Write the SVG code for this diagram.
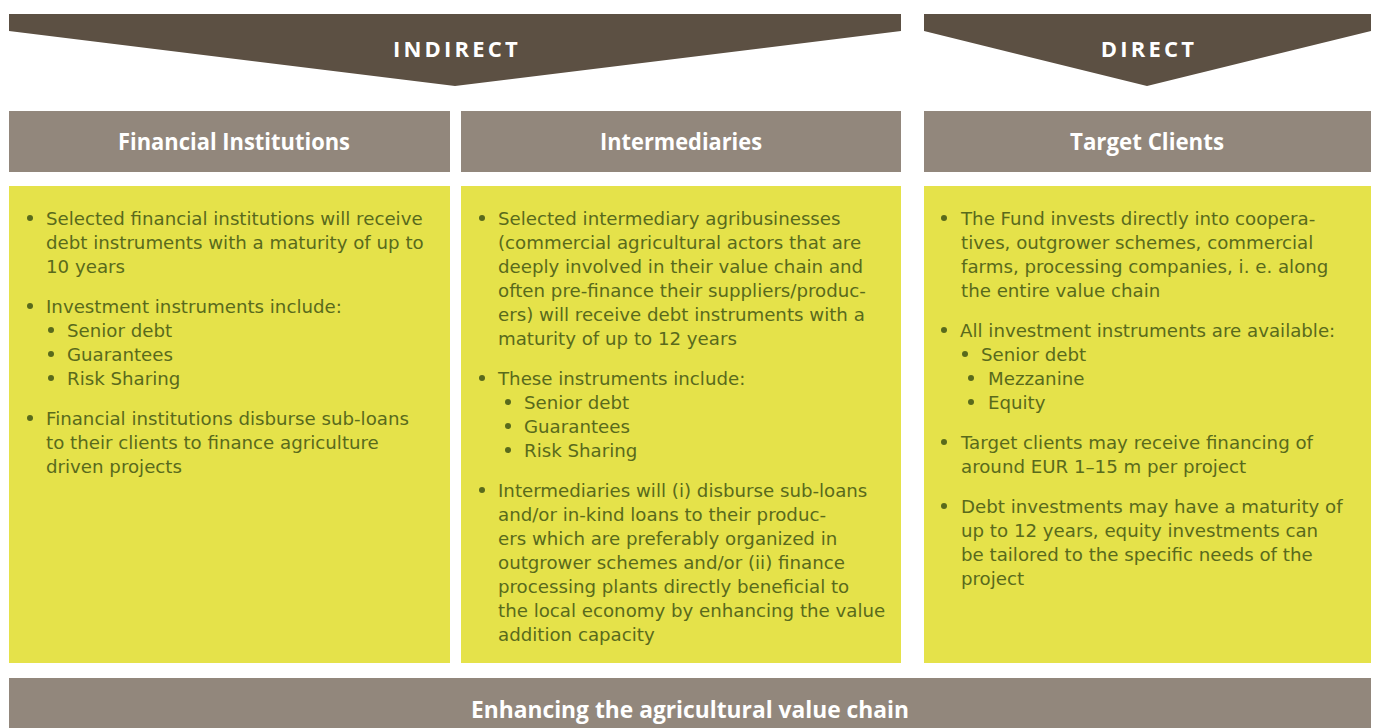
<svg xmlns="http://www.w3.org/2000/svg" width="1376" height="728" viewBox="0 0 1376 728">
<style>
.banner{fill:#5c5043}
.hdr{fill:#92877c}
.body{fill:#e5e24a}
.bt{font-family:"Open Sans","Liberation Sans",sans-serif;font-weight:bold;font-size:22px;fill:#ffffff;letter-spacing:3.2px;text-anchor:middle}
.ht{font-family:"Open Sans","Liberation Sans",sans-serif;font-weight:bold;font-size:23px;fill:#ffffff;text-anchor:middle}
.tx{font-family:"DejaVu Sans","Liberation Sans",sans-serif;font-size:18.2px;fill:#596a1c}
.dot{fill:#596a1c}
</style>
<defs><circle id="b" r="3" class="dot"/></defs>
<rect width="1376" height="728" fill="#ffffff"/>
<g id="indirect">
<polygon class="banner" points="9,14 901,14 901,31 455,86 9,31"/>
<text class="bt" x="457" y="57">INDIRECT</text>
</g>
<g id="direct">
<polygon class="banner" points="924,14 1371,14 1371,31 1147,86 924,31"/>
<text class="bt" x="1149" y="57">DIRECT</text>
</g>
<g id="financial-institutions">
<rect class="hdr" x="9" y="111" width="441" height="61"/>
<text class="ht" x="234" y="150" textLength="232" lengthAdjust="spacingAndGlyphs">Financial Institutions</text>
<rect class="body" x="9" y="186" width="441" height="477"/>
<use href="#b" x="30" y="218"/><use href="#b" x="30" y="306"/><use href="#b" x="51" y="330"/><use href="#b" x="51" y="354"/><use href="#b" x="51" y="378"/><use href="#b" x="30" y="418"/>
<g class="tx">
<text x="46" y="225">Selected financial institutions will receive</text>
<text x="46" y="249">debt instruments with a maturity of up to</text>
<text x="46" y="273">10 years</text>
<text x="46" y="313">Investment instruments include:</text>
<text x="67" y="337">Senior debt</text>
<text x="67" y="361">Guarantees</text>
<text x="67" y="385">Risk Sharing</text>
<text x="46" y="425">Financial institutions disburse sub-loans</text>
<text x="46" y="449">to their clients to finance agriculture</text>
<text x="46" y="473">driven projects</text>
</g>
</g>
<g id="intermediaries">
<rect class="hdr" x="461" y="111" width="440" height="61"/>
<text class="ht" x="681" y="150" textLength="162" lengthAdjust="spacingAndGlyphs">Intermediaries</text>
<rect class="body" x="461" y="186" width="440" height="477"/>
<use href="#b" x="482" y="218"/><use href="#b" x="482" y="378"/><use href="#b" x="508" y="402"/><use href="#b" x="508" y="426"/><use href="#b" x="508" y="450"/><use href="#b" x="482" y="490"/>
<g class="tx">
<text x="498" y="225">Selected intermediary agribusinesses</text>
<text x="498" y="249">(commercial agricultural actors that are</text>
<text x="498" y="273">deeply involved in their value chain and</text>
<text x="498" y="297">often pre-finance their suppliers/produc-</text>
<text x="498" y="321">ers) will receive debt instruments with a</text>
<text x="498" y="345">maturity of up to 12 years</text>
<text x="498" y="385">These instruments include:</text>
<text x="524" y="409">Senior debt</text>
<text x="524" y="433">Guarantees</text>
<text x="524" y="457">Risk Sharing</text>
<text x="498" y="497">Intermediaries will (i) disburse sub-loans</text>
<text x="498" y="521">and/or in-kind loans to their produc-</text>
<text x="498" y="545">ers which are preferably organized in</text>
<text x="498" y="569">outgrower schemes and/or (ii) finance</text>
<text x="498" y="593">processing plants directly beneficial to</text>
<text x="498" y="617">the local economy by enhancing the value</text>
<text x="498" y="641">addition capacity</text>
</g>
</g>
<g id="target-clients">
<rect class="hdr" x="924" y="111" width="447" height="61"/>
<text class="ht" x="1147" y="150" textLength="154" lengthAdjust="spacingAndGlyphs">Target Clients</text>
<rect class="body" x="924" y="186" width="447" height="477"/>
<use href="#b" x="944" y="218"/><use href="#b" x="944" y="330"/><use href="#b" x="965" y="354"/><use href="#b" x="971" y="378"/><use href="#b" x="971" y="402"/><use href="#b" x="944" y="442"/><use href="#b" x="944" y="506"/>
<g class="tx">
<text x="961" y="225">The Fund invests directly into coopera-</text>
<text x="961" y="249">tives, outgrower schemes, commercial</text>
<text x="961" y="273">farms, processing companies, i. e. along</text>
<text x="961" y="297">the entire value chain</text>
<text x="960" y="337">All investment instruments are available:</text>
<text x="981" y="361">Senior debt</text>
<text x="988" y="385">Mezzanine</text>
<text x="988" y="409">Equity</text>
<text x="961" y="449">Target clients may receive financing of</text>
<text x="961" y="473">around EUR 1–15 m per project</text>
<text x="961" y="513">Debt investments may have a maturity of</text>
<text x="961" y="537">up to 12 years, equity investments can</text>
<text x="961" y="561">be tailored to the specific needs of the</text>
<text x="961" y="585">project</text>
</g>
</g>
<g id="value-chain">
<rect class="hdr" x="9" y="678" width="1362" height="50"/>
<text class="ht" x="690" y="718" textLength="438" lengthAdjust="spacingAndGlyphs">Enhancing the agricultural value chain</text>
</g>
<g id="connectors"></g>
</svg>
